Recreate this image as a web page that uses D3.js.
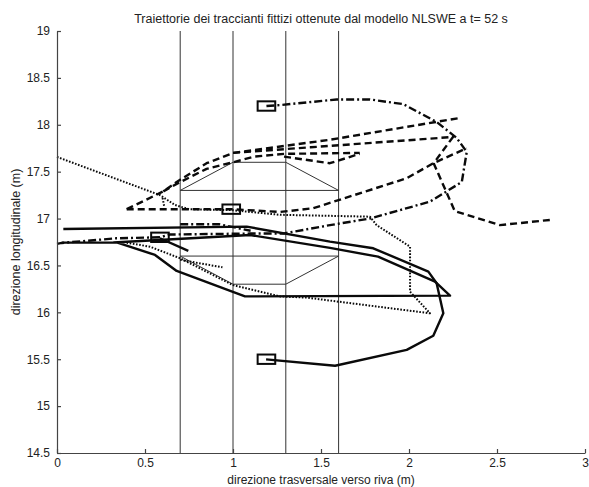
<!DOCTYPE html>
<html>
<head>
<meta charset="utf-8">
<script src="https://cdn.jsdelivr.net/npm/d3@7/dist/d3.min.js"></script>
<style>
  html, body { margin: 0; padding: 0; background: #fff; }
  svg { display: block; }
  text { font-family: "Liberation Sans", Arial, sans-serif; fill: #222; }
</style>
</head>
<body>
<svg id="chart" width="589" height="487"></svg>
<script>
// ---------------- data ----------------
const titleText = "Traiettorie dei traccianti fittizi ottenute dal modello NLSWE a t= 52 s";
const xLabel = "direzione trasversale verso riva (m)";
const yLabel = "direzione longitudinale (m)";
const xTicks = [0, 0.5, 1, 1.5, 2, 2.5, 3];
const yTicks = [14.5, 15, 15.5, 16, 16.5, 17, 17.5, 18, 18.5, 19];

// structures (vertical lines and two trapezoids)
const structX = [0.7, 1.0, 1.3, 1.6];
const trapUpper = [[0.7, 17.3], [1.6, 17.3], [1.3, 17.6], [1.0, 17.6], [0.7, 17.3]];
const trapLower = [[0.7, 16.6], [1.6, 16.6], [1.3, 16.3], [1.0, 16.3], [0.7, 16.6]];

// tracer start boxes (centres)
const boxes = [[1.19, 18.20], [0.99, 17.10], [0.585, 16.80], [1.19, 15.50]];

// solid trajectories
const solid1 = [[1.188, 15.498], [1.58, 15.43], [1.987, 15.60], [2.138, 15.75], [2.195, 15.99],
  [2.157, 16.31], [2.11, 16.434], [1.797, 16.683], [1.551, 16.754], [1.078, 16.914], [0.036, 16.889]];
const solid2 = [[0.027, 16.743], [0.32, 16.745], [1.097, 16.825], [1.551, 16.687], [1.824, 16.594],
  [2.148, 16.327], [2.233, 16.178], [1.068, 16.17], [0.68, 16.441], [0.557, 16.612], [0.339, 16.747]];
const solid3 = [[0.585, 16.79], [0.746, 16.655]];

// dash-dot trajectories
const dashdot1 = [[1.19, 18.20], [1.267, 18.21], [1.589, 18.27], [1.778, 18.27], [1.968, 18.22],
  [2.157, 18.03], [2.271, 17.86], [2.328, 17.71], [2.30, 17.39], [2.119, 17.18], [1.778, 17.00],
  [1.551, 16.93], [1.286, 16.84], [1.097, 16.84], [0.642, 16.83], [0.585, 16.80], [0.339, 16.79],
  [0.027, 16.74], [0, 16.73]];
const dashdot2 = [[0.70, 16.94], [0.92, 16.94], [1.10, 16.87]];

// dashed trajectories
const dashU = [[0.396, 17.10], [0.604, 17.29], [0.68, 17.39], [0.85, 17.59], [1.0, 17.70],
  [1.55, 17.84], [2.28, 18.07]];
const dashL = [[0.604, 17.29], [0.68, 17.37], [0.85, 17.53], [1.0, 17.60], [1.12, 17.66],
  [1.29, 17.69], [1.72, 17.70]];
const dashV = [[1.29, 17.66], [1.55, 17.59], [1.72, 17.69]];
const dashK2 = [[1.0, 17.70], [1.44, 17.76], [2.25, 17.87], [2.14, 17.59], [2.26, 17.08],
  [2.516, 16.93], [2.80, 16.985]];
const dashK1 = [[0.396, 17.10], [0.99, 17.10], [1.267, 17.07], [1.456, 17.11], [1.987, 17.43],
  [2.138, 17.59], [2.328, 17.75]];

// dotted trajectories
const dot1 = [[0, 17.657], [0.585, 17.25], [0.67, 17.145], [0.75, 17.10], [0.99, 17.09],
  [1.267, 17.04], [1.778, 17.02], [1.816, 16.93], [2.006, 16.70], [2.006, 16.22], [2.119, 15.99],
  [1.419, 16.157], [1.267, 16.17], [1.0, 16.29], [0.699, 16.577], [0.528, 16.70], [0.396, 16.743]];
const dot2 = [[0.70, 16.56], [0.94, 16.48]];
const dot3 = [[0.60, 17.22], [0.61, 17.12]];

// ---------------- drawing ----------------
const svg = d3.select("#chart");
const x = d3.scaleLinear().domain([0, 3]).range([57, 585]);
const y = d3.scaleLinear().domain([14.5, 19]).range([453, 31]);
const line = d3.line().x(d => x(d[0])).y(d => y(d[1]));

// structures
const g = svg.append("g");
structX.forEach(v => {
  g.append("line").attr("x1", x(v)).attr("x2", x(v)).attr("y1", y(19)).attr("y2", y(14.5))
    .attr("stroke", "#333").attr("stroke-width", 1);
});
[trapUpper, trapLower].forEach(t => {
  g.append("path").attr("d", line(t)).attr("fill", "none").attr("stroke", "#333").attr("stroke-width", 1);
});

const styles = {
  solid: null,
  dashed: "7,4",
  dashdot: "8,3,2,3",
  dotted: "1.6,1.6"
};
const traj = [
  [dot1, "dotted"], [dot2, "dotted"], [dot3, "dotted"],
  [dashK1, "dashed"], [dashK2, "dashed"], [dashU, "dashed"], [dashL, "dashed"], [dashV, "dashed"],
  [dashdot1, "dashdot"], [dashdot2, "dashdot"],
  [solid1, "solid"], [solid2, "solid"], [solid3, "solid"]
];
traj.forEach(([pts, st]) => {
  const p = g.append("path").attr("d", line(pts)).attr("fill", "none")
    .attr("stroke", "#0a0a0a").attr("stroke-width", st === "dotted" ? 2 : 2.4)
    .attr("stroke-linejoin", "round");
  if (styles[st]) p.attr("stroke-dasharray", styles[st]);
});

// boxes (0.1 x 0.1 in data units)
boxes.forEach(b => {
  g.append("rect")
    .attr("x", x(b[0] - 0.05)).attr("y", y(b[1] + 0.05))
    .attr("width", x(b[0] + 0.05) - x(b[0] - 0.05))
    .attr("height", y(b[1] - 0.05) - y(b[1] + 0.05))
    .attr("fill", "none").attr("stroke", "#0a0a0a").attr("stroke-width", 2);
});

// axes
const xAxis = d3.axisBottom(x).tickValues(xTicks).tickSizeInner(-4).tickSizeOuter(0).tickPadding(5)
  .tickFormat(d3.format("~g"));
const yAxis = d3.axisLeft(y).tickValues(yTicks).tickSizeInner(-4).tickSizeOuter(0).tickPadding(7)
  .tickFormat(d3.format("~g"));
const ax = svg.append("g").attr("transform", "translate(0,453)").call(xAxis);
const ay = svg.append("g").attr("transform", "translate(57,0)").call(yAxis);
[ax, ay].forEach(a => {
  a.selectAll("path, line").attr("stroke", "#444").attr("stroke-width", 1.2);
  a.selectAll("text").attr("font-size", 12).attr("font-family", "Liberation Sans, Arial, sans-serif").attr("fill", "#222");
});

// texts
svg.append("text").attr("x", 321).attr("y", 23).attr("text-anchor", "middle")
  .attr("font-size", 12.5).text(titleText);
svg.append("text").attr("x", 321).attr("y", 484).attr("text-anchor", "middle")
  .attr("font-size", 12).text(xLabel);
svg.append("text").attr("transform", "translate(20,242) rotate(-90)").attr("text-anchor", "middle")
  .attr("font-size", 12.5).text(yLabel);
</script>
</body>
</html>
